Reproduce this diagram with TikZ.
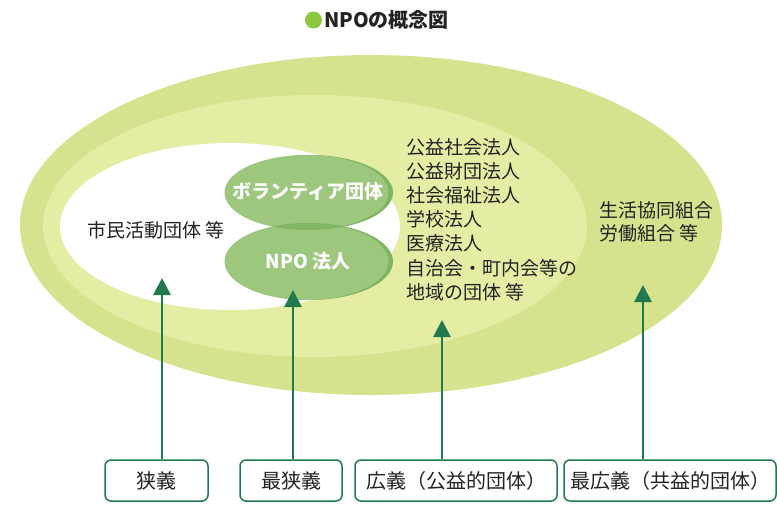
\documentclass[tikz,border=0pt]{standalone}
\usepackage{fontspec}
\newfontfamily\jp{Noto Sans CJK JP}
\usetikzlibrary{arrows.meta,shapes.geometric}
\definecolor{outerc}{RGB}{214,226,142}
\definecolor{midc}{RGB}{229,237,164}
\definecolor{gell}{RGB}{156,199,124}
\definecolor{gelld}{RGB}{128,181,98}
\definecolor{arrc}{RGB}{32,122,78}
\definecolor{txt}{RGB}{35,35,35}
\definecolor{dotc}{RGB}{141,198,63}
\begin{document}
\begin{tikzpicture}[x=1pt,y=-1pt,
 lbl/.style={font=\jp\fontsize{19}{24.2}\selectfont, text=txt, inner sep=0pt, align=left},
 gtxt/.style={inner sep=0pt, text=white, font=\jp\bfseries\fontsize{19}{22}\selectfont},
 boxn/.style={draw=arrc, line width=1.5pt, rounded corners=6pt, fill=white, minimum height=41pt, inner sep=0pt, font=\jp\fontsize{20}{24}\selectfont, text=txt},
 arr/.style={draw=arrc, line width=2.8pt, -{Triangle[width=17pt,length=17pt]}}
]
\useasboundingbox (0,0) rectangle (777,504);
% background ellipses
\fill[outerc] (371,225) ellipse [x radius=351pt, y radius=170pt];
\fill[midc] (315,226) ellipse [x radius=272pt, y radius=131pt];
\fill[white] (230,226.5) ellipse [x radius=170pt, y radius=83.5pt];
% title
\node[circle, fill=dotc, minimum size=17pt, inner sep=0pt] (dot) at (313.5,20) {};
\node[anchor=west, font=\jp\bfseries\fontsize{20}{22}\selectfont, text=txt, inner sep=0pt] (title) at (324,20) {NPOの概念図};
% green ellipses (darker rim on the right)
\fill[gelld] (310,192.5) ellipse [x radius=83pt, y radius=37.5pt];
\fill[gell] (306.5,192.5) ellipse [x radius=82pt, y radius=37.5pt];
\fill[gelld] (310,261.5) ellipse [x radius=83pt, y radius=38.5pt];
\fill[gell] (306.5,261.5) ellipse [x radius=82pt, y radius=38.5pt];
\begin{scope}
 \clip (308,192.5) ellipse [x radius=84pt, y radius=37.5pt];
 \fill[gelld] (308,261.5) ellipse [x radius=84pt, y radius=38.5pt];
\end{scope}
\node[gtxt] (vol) at (308,191) {ボランティア団体};
\node[gtxt] (npo) at (308,261) {NPO 法人};
% texts
\node[lbl, anchor=west] (shimin) at (87,230) {市民活動団体 等};
\node[lbl, anchor=west] (koeki) at (406,219.5) {公益社会法人\\公益財団法人\\社会福祉法人\\学校法人\\医療法人\\自治会・町内会等の\\地域の団体 等};
\node[lbl, anchor=west, font=\jp\fontsize{19}{23}\selectfont] (kyodo) at (599,221.5) {生活協同組合\\労働組合 等};
% boxes
\node[boxn, minimum width=103pt] (b1) at (156.5,480.5) {狭義};
\node[boxn, minimum width=102pt] (b2) at (291,480.5) {最狭義};
\node[boxn, minimum width=202pt] (b3) at (456,480.5) {広義（公益的団体）};
\node[boxn, minimum width=212pt] (b4) at (670,480.5) {最広義（共益的団体）};
% arrows
\coordinate (t1) at (162,278);
\coordinate (t2) at (293,290);
\coordinate (t3) at (442,320);
\coordinate (t4) at (643,285);
\draw[arr] (b1.north -| t1) -- (t1);
\draw[arr] (b2.north -| t2) -- (t2);
\draw[arr] (b3.north -| t3) -- (t3);
\draw[arr] (b4.north -| t4) -- (t4);
\end{tikzpicture}
\end{document}
